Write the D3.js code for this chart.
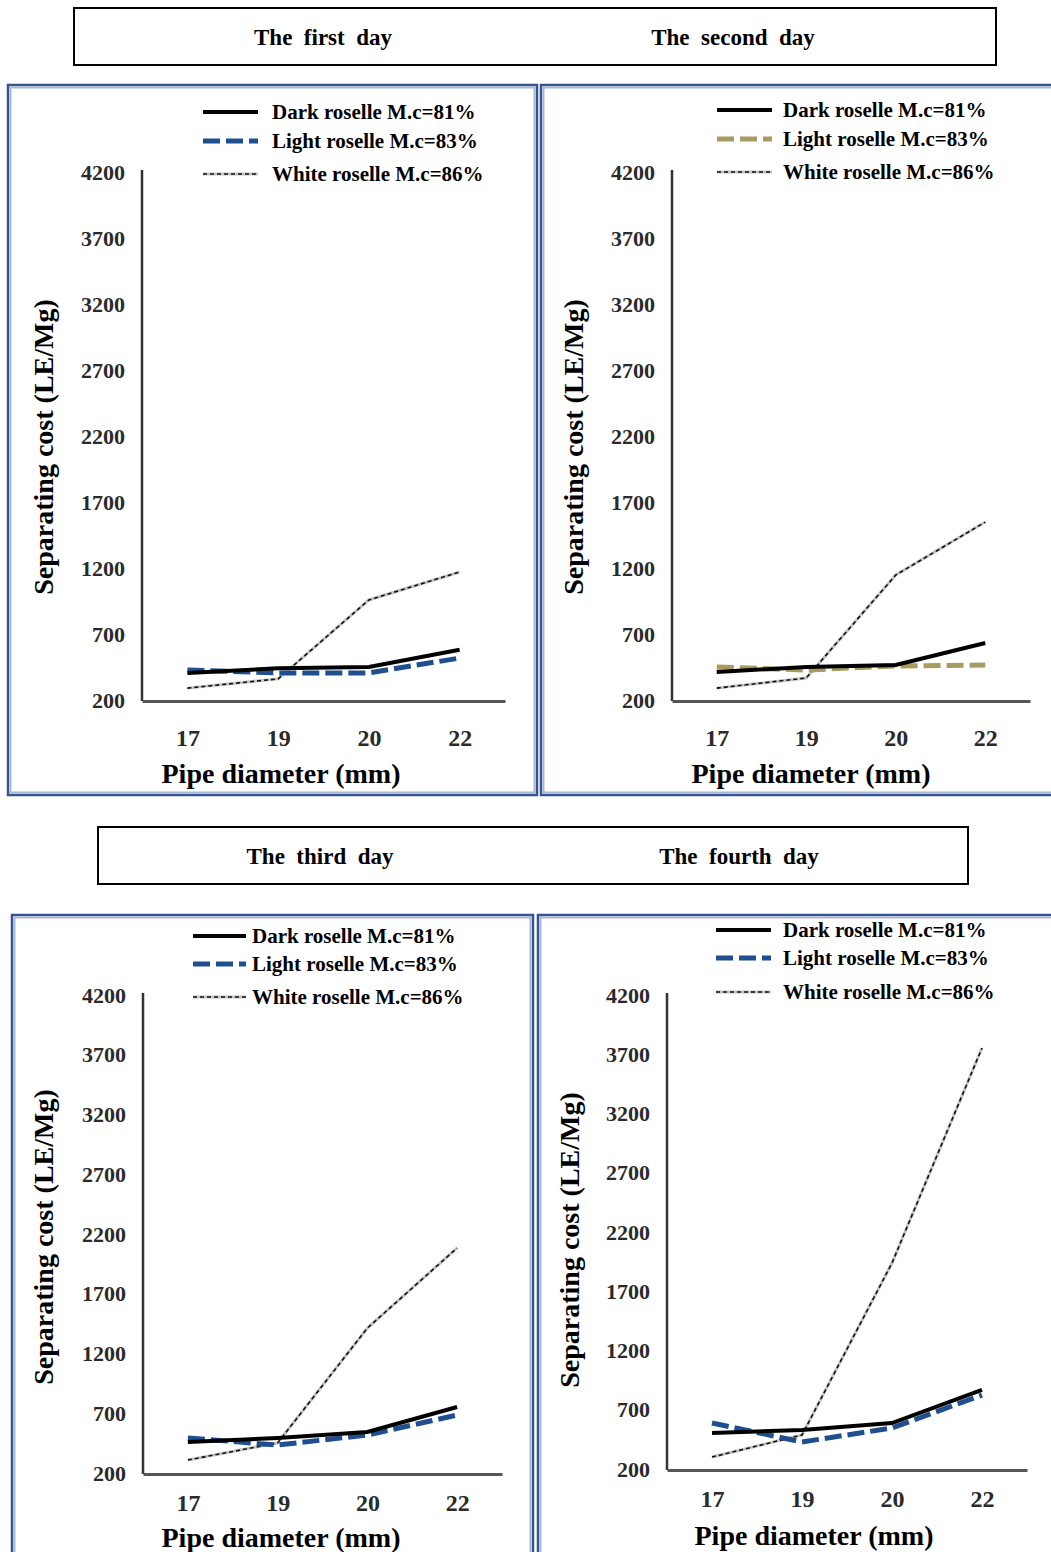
<!DOCTYPE html>
<html>
<head>
<meta charset="utf-8">
<script src="https://cdn.jsdelivr.net/npm/d3@7"></script>
<style>
  html, body { margin: 0; padding: 0; background: #fff; }
  svg { display: block; }
  text { font-family: "Liberation Serif", "Times New Roman", serif; font-weight: bold; }
</style>
</head>
<body>
<svg id="chart" width="1051" height="1552"></svg>
<script>
// Pipe diameters (mm) on the x axis
const diameters = ["17", "19", "20", "22"];
// Separating cost ticks (LE/Mg)
const costTicks = [200, 700, 1200, 1700, 2200, 2700, 3200, 3700, 4200];
const seriesNames = ["Dark roselle M.c=81%", "Light roselle M.c=83%", "White roselle M.c=86%"];
const dayTitles = ["The  first  day", "The  second  day", "The  third  day", "The  fourth  day"];

// Separating cost per day, one value per diameter
const day1Dark  = [405, 440, 450, 580];
const day1Light = [427, 405, 405, 518];
const day1White = [290, 360, 958, 1170];

const day2Dark  = [412, 450, 465, 632];
const day2Light = [450, 427, 458, 465];
const day2White = [290, 367, 1147, 1548];

const day3Dark  = [459, 493, 543, 752];
const day3Light = [493, 434, 518, 685];
const day3White = [309, 451, 1413, 2083];

const day4Dark  = [504, 529, 588, 867];
const day4Light = [588, 428, 546, 824];
const day4White = [301, 487, 1938, 3753];

const svg = d3.select("#chart");

// Title boxes above each pair of panels
const titleBoxes = [
  { x: 74, y: 8, w: 922, h: 57, labels: [[323, dayTitles[0]], [733, dayTitles[1]]] },
  { x: 98, y: 827, w: 870, h: 57, labels: [[320, dayTitles[2]], [739, dayTitles[3]]] }
];
titleBoxes.forEach(b => {
  svg.append("rect").attr("x", b.x).attr("y", b.y).attr("width", b.w).attr("height", b.h)
    .attr("fill", "none").attr("stroke", "#000").attr("stroke-width", 2);
  b.labels.forEach(([cx, t]) => {
    svg.append("text").attr("x", cx).attr("y", b.y + b.h / 2 + 8)
      .attr("text-anchor", "middle").attr("font-size", 23)
      .style("white-space", "pre").text(t);
  });
});

// Panel layout
const panels = [
  { frame: [8, 85, 529, 710], x0: 142, x1: 505, yLo: 700, yHi: 172, xLab: 738, xTitle: [281, 782], yTitle: [44, 447],
    leg: { l0: 203, l1: 258, tx: 272, ys: [112, 141, 174] }, lightColor: "#1f4f8e",
    data: [day1Dark, day1Light, day1White] },
  { frame: [541, 85, 520, 710], x0: 672, x1: 1030, yLo: 700, yHi: 172, xLab: 738, xTitle: [811, 782], yTitle: [574, 447],
    leg: { l0: 717, l1: 772, tx: 783, ys: [110, 139, 172] }, lightColor: "#a99b5f",
    data: [day2Dark, day2Light, day2White] },
  { frame: [12, 915, 521, 650], x0: 143, x1: 502, yLo: 1473, yHi: 995, xLab: 1503, xTitle: [281, 1546], yTitle: [44, 1237],
    leg: { l0: 193, l1: 246, tx: 252, ys: [936, 964, 997] }, lightColor: "#1f4f8e",
    data: [day3Dark, day3Light, day3White] },
  { frame: [538, 915, 520, 650], x0: 667, x1: 1027, yLo: 1469, yHi: 995, xLab: 1499, xTitle: [814, 1544], yTitle: [570, 1240],
    leg: { l0: 716, l1: 771, tx: 783, ys: [930, 958, 992] }, lightColor: "#1f4f8e",
    data: [day4Dark, day4Light, day4White] }
];

function styleSeries(sel, i, p) {
  if (i === 0) {
    sel.append("path").attr("stroke", "#000").attr("stroke-width", 4).attr("fill", "none");
  } else if (i === 1) {
    sel.append("path").attr("stroke", p.lightColor).attr("stroke-width", 5)
      .attr("stroke-dasharray", "17,6").attr("fill", "none");
  } else {
    sel.append("path").attr("stroke", "#c4c4c4").attr("stroke-width", 3).attr("fill", "none");
    sel.append("path").attr("stroke", "#111").attr("stroke-width", 1.6)
      .attr("stroke-dasharray", "4,3").attr("fill", "none");
  }
}

panels.forEach(p => {
  const [fx, fy, fw, fh] = p.frame;
  // Blue double frame
  svg.append("rect").attr("x", fx).attr("y", fy).attr("width", fw).attr("height", fh)
    .attr("fill", "none").attr("stroke", "#34558f").attr("stroke-width", 2.5);
  svg.append("rect").attr("x", fx + 2.5).attr("y", fy + 2.5).attr("width", fw - 5).attr("height", fh - 5)
    .attr("fill", "none").attr("stroke", "#a9b8d6").attr("stroke-width", 2);

  const x = d3.scalePoint().domain(diameters).range([p.x0, p.x1]).padding(0.5);
  const y = d3.scaleLinear().domain([200, 4200]).range([p.yLo, p.yHi]);

  // Y axis
  const gy = svg.append("g").attr("transform", `translate(${p.x0},0)`)
    .call(d3.axisLeft(y).tickValues(costTicks).tickSize(0).tickPadding(17).tickFormat(d3.format("d")));
  gy.select(".domain").attr("stroke", "#333").attr("stroke-width", 2.5)
    .attr("d", `M0,${p.yLo + 1}V${p.yHi - 2}`);
  gy.selectAll("text").attr("font-size", 22).attr("fill", "#2a2a2a")
    .attr("font-family", "'Liberation Serif', serif").attr("font-weight", "bold");

  // X axis
  const gx = svg.append("g").attr("transform", `translate(0,${p.yLo + 1})`)
    .call(d3.axisBottom(x).tickSize(0));
  gx.select(".domain").attr("stroke", "#555").attr("stroke-width", 3);
  gx.selectAll("text").attr("font-size", 24).attr("fill", "#2a2a2a")
    .attr("y", p.xLab - p.yLo - 1).attr("dy", "0.35em")
    .attr("font-family", "'Liberation Serif', serif").attr("font-weight", "bold");

  // Axis titles
  svg.append("text").attr("x", p.xTitle[0]).attr("y", p.xTitle[1] + 1)
    .attr("text-anchor", "middle").attr("font-size", 28).text("Pipe diameter (mm)");
  svg.append("text").attr("transform", `translate(${p.yTitle[0] + 9},${p.yTitle[1]}) rotate(-90)`)
    .attr("text-anchor", "middle").attr("font-size", 28).text("Separating cost (LE/Mg)");

  // Series lines
  const line = d3.line().x((d, i) => x(diameters[i])).y(d => y(d));
  [2, 1, 0].forEach(i => {
    const g = svg.append("g");
    styleSeries(g, i, p);
    g.selectAll("path").datum(p.data[i]).attr("d", line);
  });

  // Legend
  seriesNames.forEach((name, i) => {
    const ly = p.leg.ys[i];
    const g = svg.append("g");
    styleSeries(g, i, p);
    g.selectAll("path").attr("d", `M${p.leg.l0},${ly}H${p.leg.l1}`);
    svg.append("text").attr("x", p.leg.tx).attr("y", ly + 7).attr("font-size", 21).text(name);
  });
});
</script>
</body>
</html>
